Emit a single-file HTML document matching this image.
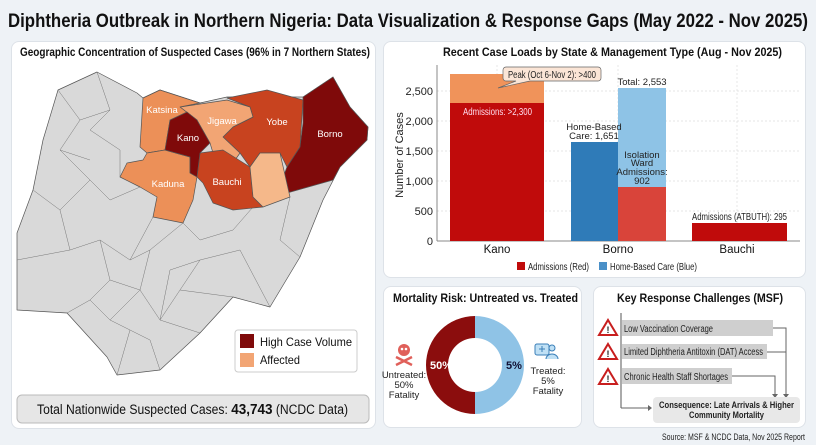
<!DOCTYPE html>
<html><head><meta charset="utf-8"><style>
*{margin:0;padding:0;box-sizing:border-box}
body{width:816px;height:445px;background:#eef2f6;font-family:"Liberation Sans",sans-serif;position:relative;overflow:hidden}
.p{position:absolute;background:#fff;border:1px solid #dde2e8;border-radius:8px}
svg{position:absolute;left:0;top:0}
</style></head><body>
<div class="p" style="left:11px;top:41px;width:365px;height:388px"></div>
<div class="p" style="left:383px;top:41px;width:423px;height:237px"></div>
<div class="p" style="left:383px;top:286px;width:199px;height:142px"></div>
<div class="p" style="left:593px;top:286px;width:213px;height:142px"></div>
<svg width="816" height="445" viewBox="0 0 816 445" font-family="Liberation Sans, sans-serif">
<text x="8" y="27" font-size="19" font-weight="bold" fill="#111" textLength="800" lengthAdjust="spacingAndGlyphs">Diphtheria Outbreak in Northern Nigeria: Data Visualization &amp; Response Gaps (May 2022 - Nov 2025)</text>
<text x="20" y="56" font-size="11.5" font-weight="bold" fill="#111" textLength="350" lengthAdjust="spacingAndGlyphs">Geographic Concentration of Suspected Cases (96% in 7 Northern States)</text>
<!-- map -->
<g stroke="#555" stroke-width="0.7" stroke-linejoin="round">
<polygon fill="#d9d9d9" points="58,90 97,72 137,93 143,98 160,90 200,103 227,97 303,97 333,77 350,107 368,127 367,140 340,167 323,200 300,257 270,307 233,297 200,333 160,370 117,375 107,357 67,313 17,310 17,233 33,190 43,140"/>
<g fill="none" stroke="#777" stroke-width="0.5">
<path d="M58,90 L80,120 L60,150 L90,180 L60,210 L33,190"/><path d="M97,72 L110,110 L90,130 L120,150 L120,177"/><path d="M80,120 L110,110"/><path d="M60,150 L90,160"/>
<path d="M90,180 L110,200 L140,187"/><path d="M60,210 L70,250 L17,260"/><path d="M70,250 L100,240 L130,260 L153,217"/><path d="M100,240 L110,280 L90,300 L67,313"/>
<path d="M130,260 L150,250 L183,223 L200,240 L233,230 L253,207"/><path d="M290,197 L280,240 L300,257"/><path d="M110,280 L140,290 L150,250"/><path d="M140,290 L160,320 L200,333"/>
<path d="M160,320 L180,290 L233,297"/><path d="M180,290 L200,260 L240,250 L270,307"/><path d="M90,300 L110,320 L130,330 L117,375"/><path d="M130,330 L150,340 L160,370"/><path d="M140,290 L120,310 L110,320"/><path d="M200,260 L170,270 L160,320"/>
</g>
<polygon fill="#c8431f" points="227,98 250,107 253,117 233,127 223,137 240,153 250,167 260,153 280,153 287,167 300,147 303,100 267,90"/>
<polygon fill="#7f0a0a" points="303,97 333,77 350,107 368,127 367,140 340,167 333,180 287,193 282,180 287,167 300,147 303,123"/>
<polygon fill="#f2a574" points="180,107 227,100 250,107 253,117 233,127 223,137 240,153 233,163 213,153 210,143 197,120"/>
<polygon fill="#ec9058" points="143,98 160,90 200,103 180,107 197,120 170,120 165,150 147,153 140,147"/>
<polygon fill="#ec9058" points="147,153 165,150 190,157 190,173 197,177 193,200 183,223 153,217 157,197 140,187 120,177 127,163 143,160"/>
<polygon fill="#c8431f" points="200,153 223,150 250,167 253,197 263,207 233,210 213,203 203,183 197,177"/>
<polygon fill="#f5b88a" points="250,167 260,153 280,153 290,197 263,207 253,197"/>
<polygon fill="#7f0a0a" points="170,120 187,112 197,120 210,143 200,153 197,177 190,173 190,157 165,150"/>
</g>
<g fill="#fff" font-size="9.5" text-anchor="middle">
<text x="162" y="113">Katsina</text><text x="222" y="124">Jigawa</text><text x="277" y="125">Yobe</text><text x="330" y="137">Borno</text><text x="188" y="141">Kano</text><text x="168" y="187">Kaduna</text><text x="227" y="185">Bauchi</text></g>
<rect x="235" y="330" width="122" height="42" rx="3" fill="#fff" stroke="#ccc"/>
<rect x="240" y="334" width="14" height="14" fill="#7f0a0a"/><rect x="240" y="353" width="14" height="14" fill="#f2a574"/>
<text x="260" y="346" font-size="12" fill="#111" textLength="92" lengthAdjust="spacingAndGlyphs">High Case Volume</text><text x="260" y="364" font-size="12" fill="#111" textLength="40" lengthAdjust="spacingAndGlyphs">Affected</text>
<rect x="17" y="395" width="352" height="28" rx="5" fill="#e6e6e6" stroke="#bbb"/>
<text x="37" y="414" font-size="13.5" fill="#111" textLength="311" lengthAdjust="spacingAndGlyphs">Total Nationwide Suspected Cases: <tspan font-weight="bold" font-size="15">43,743</tspan> (NCDC Data)</text>
<!-- bar chart -->
<text x="443" y="56" font-size="11.5" font-weight="bold" fill="#111" textLength="339" lengthAdjust="spacingAndGlyphs">Recent Case Loads by State &amp; Management Type (Aug - Nov 2025)</text>
<g stroke="#ddd" stroke-dasharray="2,2" stroke-width="0.7"><line x1="437" x2="800" y1="211" y2="211"/><line x1="437" x2="800" y1="181" y2="181"/><line x1="437" x2="800" y1="151" y2="151"/><line x1="437" x2="800" y1="121" y2="121"/><line x1="437" x2="800" y1="91" y2="91"/><line x1="497" x2="497" y1="65" y2="241"/><line x1="618" x2="618" y1="65" y2="241"/><line x1="737" x2="737" y1="65" y2="241"/></g>
<line x1="437" y1="65" x2="437" y2="241" stroke="#888"/><line x1="437" y1="241" x2="800" y2="241" stroke="#888"/>
<g font-size="11" text-anchor="end" fill="#222"><text x="433" y="245">0</text><text x="433" y="215">500</text><text x="433" y="185">1,000</text><text x="433" y="155">1,500</text><text x="433" y="125">2,000</text><text x="433" y="95">2,500</text></g>
<text transform="translate(403,155) rotate(-90)" font-size="11" text-anchor="middle" fill="#222">Number of Cases</text>
<rect x="450" y="74" width="94" height="29" fill="#f0935a"/><rect x="450" y="103" width="94" height="138" fill="#c00b0b"/>
<rect x="571" y="142" width="47" height="99" fill="#2f7bb8"/><rect x="618" y="88" width="48" height="99" fill="#8ec3e6"/><rect x="618" y="187" width="48" height="54" fill="#d9443a"/>
<rect x="692" y="223" width="95" height="18" fill="#c00b0b"/>
<path d="M506,67 H598 a3,3 0 0 1 3,3 V78 a3,3 0 0 1 -3,3 H530 L498,88 L516,81 H506 a3,3 0 0 1 -3,-3 V70 a3,3 0 0 1 3,-3Z" fill="#fbe5d6" stroke="#666" stroke-width="0.7"/>
<text x="508" y="78" font-size="10" fill="#222" textLength="88" lengthAdjust="spacingAndGlyphs">Peak (Oct 6-Nov 2): &gt;400</text>
<text x="463" y="115" font-size="10" fill="#fde" textLength="69" lengthAdjust="spacingAndGlyphs">Admissions: &gt;2,300</text>
<g font-size="9.5" text-anchor="middle" fill="#222"><text x="642" y="85">Total: 2,553</text><text x="594" y="130">Home-Based</text><text x="594" y="139">Care: 1,651</text>
<text x="642" y="158">Isolation</text><text x="642" y="166">Ward</text><text x="642" y="175">Admissions:</text><text x="642" y="184">902</text></g>
<text x="692" y="220" font-size="10" fill="#222" textLength="95" lengthAdjust="spacingAndGlyphs">Admissions (ATBUTH): 295</text>
<g font-size="11.5" text-anchor="middle" fill="#111"><text x="497" y="253">Kano</text><text x="618" y="253">Borno</text><text x="737" y="253">Bauchi</text></g>
<rect x="517" y="262" width="8" height="8" fill="#c00b0b"/><text x="528" y="270" font-size="10" fill="#222" textLength="61" lengthAdjust="spacingAndGlyphs">Admissions (Red)</text>
<rect x="599" y="262" width="8" height="8" fill="#4a90c8"/><text x="610" y="270" font-size="10" fill="#222" textLength="87" lengthAdjust="spacingAndGlyphs">Home-Based Care (Blue)</text>
<!-- mortality -->
<text x="393" y="302" font-size="11.5" font-weight="bold" fill="#111" textLength="185" lengthAdjust="spacingAndGlyphs">Mortality Risk: Untreated vs. Treated</text>
<path d="M475,316 A49,49 0 0 0 475,414 L475,392 A27,27 0 0 1 475,338Z" fill="#8b0d0d"/>
<path d="M475,316 A49,49 0 0 1 475,414 L475,392 A27,27 0 0 0 475,338Z" fill="#8fc3e6"/>
<text x="441" y="369" font-size="11" font-weight="bold" fill="#fff" text-anchor="middle">50%</text>
<text x="514" y="369" font-size="11" font-weight="bold" fill="#113" text-anchor="middle">5%</text>
<g fill="#e0605a"><circle cx="404" cy="350" r="6"/><path d="M396,357 L412,365 M412,357 L396,365" stroke="#e0605a" stroke-width="2.5"/></g>
<circle cx="402" cy="349" r="1.3" fill="#fff"/><circle cx="406" cy="349" r="1.3" fill="#fff"/>
<g font-size="9.5" text-anchor="middle" fill="#222"><text x="404" y="378">Untreated:</text><text x="404" y="388">50%</text><text x="404" y="398">Fatality</text>
<text x="548" y="374">Treated:</text><text x="548" y="384">5%</text><text x="548" y="394">Fatality</text></g>
<rect x="535" y="344" width="14" height="11" rx="2" fill="#bfe0f5" stroke="#3b7fb8"/><path d="M539,349 h6 M542,346 v6" stroke="#3b7fb8"/>
<circle cx="552" cy="348" r="3" fill="#bfe0f5" stroke="#3b7fb8"/><path d="M546,359 a6,5 0 0 1 12,0" fill="#bfe0f5" stroke="#3b7fb8"/>
<!-- challenges -->
<text x="617" y="302" font-size="11.5" font-weight="bold" fill="#111" textLength="166" lengthAdjust="spacingAndGlyphs">Key Response Challenges (MSF)</text>
<line x1="621" y1="313" x2="621" y2="408" stroke="#555"/>
<g fill="#fff" stroke="#c81e1e" stroke-width="2"><polygon points="608,320 617,335 599,335"/><polygon points="608,344 617,359 599,359"/><polygon points="608,369 617,384 599,384"/></g>
<g font-size="9" font-weight="bold" fill="#222" text-anchor="middle"><text x="608" y="333">!</text><text x="608" y="357">!</text><text x="608" y="382">!</text></g>
<rect x="622" y="320" width="151" height="16" fill="#cfcfcf"/><rect x="622" y="344" width="145" height="15" fill="#cfcfcf"/><rect x="622" y="368" width="110" height="16" fill="#cfcfcf"/>
<g font-size="10" fill="#222"><text x="624" y="332" textLength="89" lengthAdjust="spacingAndGlyphs">Low Vaccination Coverage</text><text x="624" y="355" textLength="139" lengthAdjust="spacingAndGlyphs">Limited Diphtheria Antitoxin (DAT) Access</text><text x="624" y="380" textLength="104" lengthAdjust="spacingAndGlyphs">Chronic Health Staff Shortages</text></g>
<g fill="none" stroke="#666"><path d="M773,328 H786 V396"/><path d="M767,352 H786"/><path d="M732,376 H775 V396"/><path d="M621,408 H650"/></g>
<g fill="#666"><polygon points="783,394 789,394 786,398"/><polygon points="772,394 778,394 775,398"/><polygon points="648,405 648,411 652,408"/></g>
<rect x="653" y="397" width="147" height="26" rx="4" fill="#e8e8e8"/>
<g font-size="9.5" font-weight="bold" fill="#222"><text x="659" y="408" textLength="135" lengthAdjust="spacingAndGlyphs">Consequence: Late Arrivals &amp; Higher</text><text x="689" y="418" textLength="75" lengthAdjust="spacingAndGlyphs">Community Mortality</text></g>
<text x="662" y="440" font-size="9.5" fill="#222" textLength="143" lengthAdjust="spacingAndGlyphs">Source: MSF &amp; NCDC Data, Nov 2025 Report</text>
</svg>
</body></html>
